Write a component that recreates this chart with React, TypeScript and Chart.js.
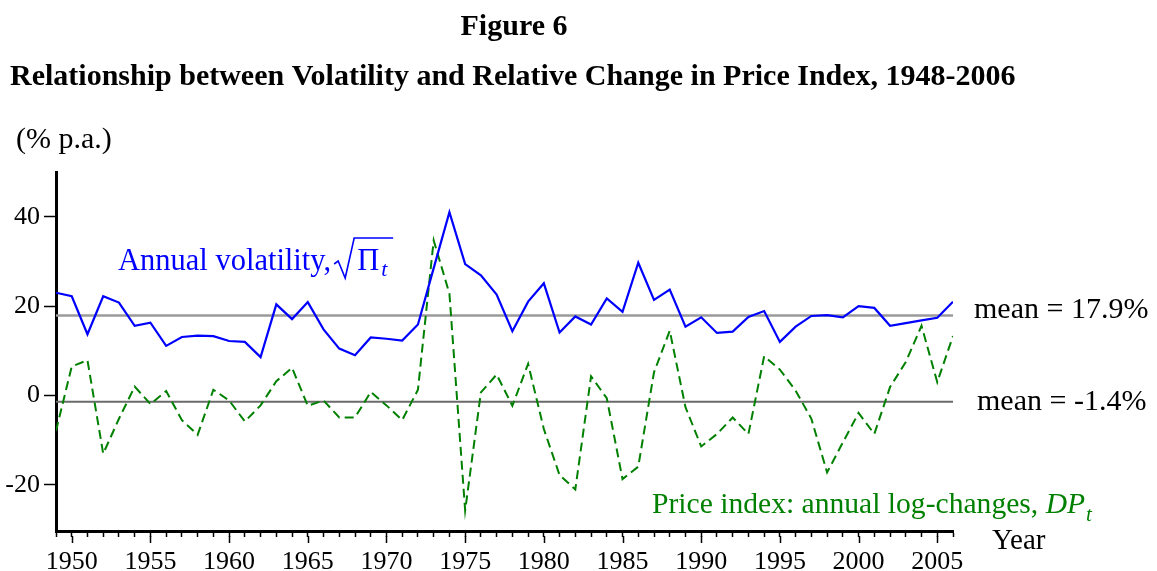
import React, { useEffect, useRef } from 'react';
import { Chart, registerables } from 'chart.js';

Chart.register(...registerables);

const years = [
  1949, 1950, 1951, 1952, 1953, 1954, 1955, 1956, 1957, 1958,
  1959, 1960, 1961, 1962, 1963, 1964, 1965, 1966, 1967, 1968,
  1969, 1970, 1971, 1972, 1973, 1974, 1975, 1976, 1977, 1978,
  1979, 1980, 1981, 1982, 1983, 1984, 1985, 1986, 1987, 1988,
  1989, 1990, 1991, 1992, 1993, 1994, 1995, 1996, 1997, 1998,
  1999, 2000, 2001, 2002, 2003, 2004, 2005, 2006,
];

const volatility = [
  23.0, 22.2, 13.7, 22.2, 20.8, 15.6, 16.3, 11.1, 13.1, 13.4,
  13.3, 12.2, 12.0, 8.6, 20.4, 17.1, 20.9, 14.8, 10.5, 9.0,
  13.0, 12.7, 12.3, 15.9, 28.5, 41.0, 29.4, 26.9, 22.6, 14.4,
  21.0, 25.1, 14.1, 17.7, 15.9, 21.7, 18.7, 29.7, 21.4, 23.7,
  15.4, 17.5, 14.0, 14.3, 17.6, 18.9, 12.0, 15.4, 17.8, 18.0,
  17.5, 20.0, 19.6, 15.6, 16.2, 16.8, 17.4, 21.0,
];

const priceChange = [
  -7.9, 6.5, 7.9, -13.0, -5.2, 2.0, -1.9, 1.0, -5.5, -8.8,
  1.3, -1.1, -5.8, -2.2, 3.2, 6.2, -2.3, -1.1, -4.9, -4.9,
  0.8, -2.2, -5.5, 1.3, 34.7, 22.8, -25.7, 0.7, 4.7, -2.3,
  7.1, -7.5, -17.8, -21.0, 4.3, -0.6, -18.7, -15.9, 5.2, 14.5,
  -2.6, -11.4, -8.6, -4.9, -8.6, 8.8, 5.8, 1.1, -5.2, -17.2,
  -10.5, -3.9, -8.6, 1.9, 7.5, 15.6, 3.0, 13.3,
];

const meanVolatility = 17.9;
const meanPriceChange = -1.4;
const yTickValues = [-20, 0, 20, 40];
const xTickLabels = [1950, 1955, 1960, 1965, 1970, 1975, 1980, 1985, 1990, 1995, 2000, 2005];

const SERIF = '"Liberation Serif", "Times New Roman", serif';

const annotationPlugin = {
  id: 'figureText',
  afterDraw(chart: any) {
    const ctx = chart.ctx as CanvasRenderingContext2D;
    const xs = chart.scales.x;
    const ys = chart.scales.y;
    const area = chart.chartArea;
    ctx.save();

    // longer major ticks on the year axis
    ctx.strokeStyle = '#000';
    ctx.lineWidth = 1.5;
    for (const v of xTickLabels) {
      const px = Math.round(xs.getPixelForValue(v)) + 0.5;
      ctx.beginPath();
      ctx.moveTo(px, area.bottom + 5);
      ctx.lineTo(px, area.bottom + 12);
      ctx.stroke();
    }

    ctx.textBaseline = 'alphabetic';
    ctx.textAlign = 'left';

    // Titles
    ctx.fillStyle = '#000';
    ctx.font = `bold 30px ${SERIF}`;
    ctx.textAlign = 'center';
    ctx.fillText('Figure 6', 514, 35);
    ctx.textAlign = 'left';
    ctx.fillText('Relationship between Volatility and Relative Change in Price Index, 1948-2006', 10, 85);
    ctx.font = `30px ${SERIF}`;
    ctx.fillText('(% p.a.)', 16, 148);

    // mean labels
    ctx.font = `30px ${SERIF}`;
    ctx.fillText('mean = 17.9%', 974, ys.getPixelForValue(meanVolatility) + 2);
    ctx.fillText('mean = -1.4%', 977, ys.getPixelForValue(meanPriceChange) + 8);

    // Year label
    ctx.font = `29px ${SERIF}`;
    ctx.fillText('Year', 992, 549);

    // Annual volatility label
    ctx.fillStyle = '#0000ff';
    ctx.strokeStyle = '#0000ff';
    ctx.font = `30.5px ${SERIF}`;
    const t1 = 'Annual volatility,';
    ctx.fillText(t1, 118, 270);
    const x0 = 118 + ctx.measureText(t1).width + 3;
    ctx.lineWidth = 1.6;
    ctx.beginPath();
    ctx.moveTo(x0, 264);
    ctx.lineTo(x0 + 4, 261);
    ctx.lineTo(x0 + 11, 278);
    ctx.lineTo(x0 + 20, 238);
    ctx.lineTo(x0 + 59, 238);
    ctx.stroke();
    ctx.fillText('\u03A0', x0 + 23, 270);
    const piW = ctx.measureText('\u03A0').width;
    ctx.font = `italic 22px ${SERIF}`;
    ctx.fillText('t', x0 + 23 + piW + 2, 276);

    // Price index label
    ctx.fillStyle = '#008000';
    ctx.font = `29.6px ${SERIF}`;
    const t2 = 'Price index: annual log-changes, ';
    ctx.fillText(t2, 652, 513);
    let x1 = 652 + ctx.measureText(t2).width;
    ctx.font = `italic 29.6px ${SERIF}`;
    ctx.fillText('DP', x1, 513);
    x1 += ctx.measureText('DP').width;
    ctx.font = `italic 21px ${SERIF}`;
    ctx.fillText('t', x1 + 1, 521);

    ctx.restore();
  },
};

export default function App() {
  const canvasRef = useRef<HTMLCanvasElement | null>(null);

  useEffect(() => {
    document.body.style.margin = '0';
    const canvas = canvasRef.current;
    if (!canvas) return;

    const volPoints = years.map((yr, i) => ({ x: yr, y: volatility[i] }));
    const dpPoints = years.map((yr, i) => ({ x: yr, y: priceChange[i] }));
    const first = years[0];
    const last = years[years.length - 1];

    const chart = new Chart(canvas, {
      type: 'line',
      data: {
        datasets: [
          {
            label: 'Annual volatility',
            data: volPoints,
            borderColor: '#0000ff',
            borderWidth: 2.2,
            pointRadius: 0,
            tension: 0,
            fill: false,
          },
          {
            label: 'Price index: annual log-changes',
            data: dpPoints,
            borderColor: '#008000',
            borderWidth: 2,
            borderDash: [9, 5],
            pointRadius: 0,
            tension: 0,
            fill: false,
          },
          {
            label: 'mean volatility',
            data: [{ x: first, y: meanVolatility }, { x: last, y: meanVolatility }],
            borderColor: '#9a9a9a',
            borderWidth: 2.5,
            pointRadius: 0,
            fill: false,
          },
          {
            label: 'mean price change',
            data: [{ x: first, y: meanPriceChange }, { x: last, y: meanPriceChange }],
            borderColor: '#6a6a6a',
            borderWidth: 2,
            pointRadius: 0,
            fill: false,
          },
        ],
      },
      options: {
        responsive: false,
        animation: false,
        layout: { padding: { top: 172, right: 204, left: 0, bottom: 0 } },
        plugins: {
          legend: { display: false },
          tooltip: { enabled: false },
          title: { display: false },
        },
        scales: {
          x: {
            type: 'linear',
            min: first,
            max: last,
            afterFit: (scale: any) => {
              scale.height = 40;
            },
            border: { display: true, color: '#000', width: 3 },
            grid: {
              display: true,
              drawOnChartArea: false,
              drawTicks: true,
              tickLength: 6,
              tickColor: '#000',
              tickWidth: 1.5,
            },
            ticks: {
              stepSize: 1,
              autoSkip: false,
              maxRotation: 0,
              includeBounds: false,
              padding: 10,
              color: '#000',
              font: { family: SERIF, size: 26 },
              callback: (v: any) => (xTickLabels.includes(Number(v)) ? String(v) : ''),
            },
          },
          y: {
            type: 'linear',
            min: -30.3,
            max: 50,
            afterFit: (scale: any) => {
              scale.width = 56;
            },
            afterBuildTicks: (scale: any) => {
              scale.ticks = yTickValues.map((v) => ({ value: v }));
            },
            border: { display: true, color: '#000', width: 3 },
            grid: {
              display: true,
              drawOnChartArea: false,
              drawTicks: true,
              tickLength: 12,
              tickColor: '#000',
              tickWidth: 1.5,
            },
            ticks: {
              autoSkip: false,
              padding: 4,
              color: '#000',
              font: { family: SERIF, size: 26 },
              callback: (v: any) => String(v),
            },
          },
        },
      },
      plugins: [annotationPlugin],
    });

    return () => {
      chart.destroy();
    };
  }, []);

  return (
    <canvas
      ref={canvasRef}
      width={1157}
      height={571}
      style={{ position: 'absolute', left: 0, top: 0, width: 1157, height: 571 }}
    />
  );
}
